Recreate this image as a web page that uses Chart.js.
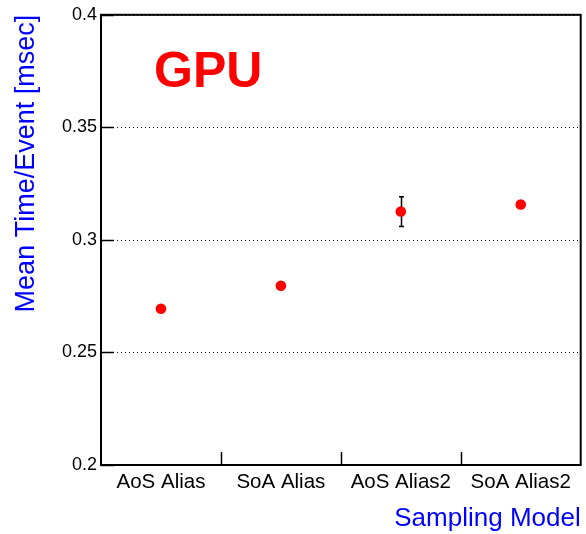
<!DOCTYPE html>
<html>
<head>
<meta charset="utf-8">
<script src="https://cdn.jsdelivr.net/npm/chart.js@4/dist/chart.umd.min.js"></script>
<style>
  html, body { margin: 0; padding: 0; background: #fff; }
  #wrap { width: 586px; height: 534px; }
</style>
</head>
<body>
<div id="wrap"><canvas id="c"></canvas></div>
<script>
// Mean processing time per event for each sampling model (GPU)
const categories = ['AoS Alias', 'SoA Alias', 'AoS Alias2', 'SoA Alias2'];
const meanTime = [0.2694, 0.2796, 0.3126, 0.3157];
const meanTimeErr = [0, 0, 0.0066, 0];
const yTickValues = [0.2, 0.25, 0.3, 0.35, 0.4];
const yTickLabels = ['0.2', '0.25', '0.3', '0.35', '0.4'];

const FONT = 'Liberation Sans, Arial, Helvetica, sans-serif';

// Dotted horizontal grid, inward tick marks, and the frame around the plot
const framePlugin = {
  id: 'frame',
  beforeDatasetsDraw(chart) {
    const { ctx, chartArea: a, scales: { x, y } } = chart;
    ctx.save();
    ctx.strokeStyle = '#000';
    ctx.lineWidth = 1;
    // dotted grid lines
    ctx.setLineDash([1, 3]);
    yTickValues.forEach(v => {
      if (v === y.min) return;
      const py = Math.round(y.getPixelForValue(v)) + 0.5;
      ctx.beginPath();
      ctx.moveTo(a.left, py);
      ctx.lineTo(a.right, py);
      ctx.stroke();
    });
    ctx.setLineDash([]);
    ctx.lineWidth = 1.5;
    // major y ticks pointing inward
    yTickValues.forEach(v => {
      const py = Math.round(y.getPixelForValue(v)) + 0.5;
      ctx.beginPath();
      ctx.moveTo(a.left, py);
      ctx.lineTo(a.left + 13, py);
      ctx.stroke();
    });
    // x ticks at the category boundaries
    for (let i = 0; i < categories.length - 1; i++) {
      const px = Math.round((x.getPixelForValue(i) + x.getPixelForValue(i + 1)) / 2) + 0.5;
      ctx.beginPath();
      ctx.moveTo(px, a.bottom);
      ctx.lineTo(px, a.bottom - 13);
      ctx.stroke();
    }
    ctx.restore();
  },
  afterDraw(chart) {
    const { ctx, chartArea: a } = chart;
    ctx.save();
    ctx.strokeStyle = '#000';
    ctx.lineWidth = 2;
    ctx.strokeRect(a.left, a.top, a.right - a.left, a.bottom - a.top);
    // panel label
    ctx.fillStyle = '#ff0000';
    ctx.font = 'bold 50px ' + FONT;
    ctx.textAlign = 'left';
    ctx.textBaseline = 'alphabetic';
    ctx.fillText('GPU', a.left + 53, 87);
    ctx.restore();
  }
};

// Vertical error bars drawn from the error array through the y scale
const errorBarPlugin = {
  id: 'errorBars',
  beforeDatasetsDraw(chart) {
    const { ctx, scales: { x, y } } = chart;
    ctx.save();
    ctx.strokeStyle = '#000';
    ctx.lineWidth = 1.5;
    meanTime.forEach((v, i) => {
      const e = meanTimeErr[i];
      if (!e) return;
      const px = Math.round(x.getPixelForValue(i)) + 0.5;
      const yHi = y.getPixelForValue(v + e);
      const yLo = y.getPixelForValue(v - e);
      ctx.beginPath();
      ctx.moveTo(px, yHi);
      ctx.lineTo(px, yLo);
      ctx.moveTo(px - 2.5, yHi);
      ctx.lineTo(px + 2.5, yHi);
      ctx.moveTo(px - 2.5, yLo);
      ctx.lineTo(px + 2.5, yLo);
      ctx.stroke();
    });
    ctx.restore();
  }
};

new Chart(document.getElementById('c'), {
  type: 'line',
  data: {
    labels: categories,
    datasets: [{
      data: meanTime,
      showLine: false,
      pointRadius: 5.3,
      pointHoverRadius: 5.3,
      pointBackgroundColor: '#ff0000',
      pointBorderWidth: 0,
      borderColor: '#ff0000'
    }]
  },
  options: {
    responsive: true,
    maintainAspectRatio: false,
    animation: false,
    events: [],
    layout: { padding: { top: 14, right: 2, left: 0, bottom: 0 } },
    plugins: { legend: { display: false }, tooltip: { enabled: false } },
    scales: {
      x: {
        type: 'category',
        offset: true,
        grid: { display: false, drawTicks: false },
        border: { display: false },
        ticks: {
          color: '#000',
          font: { family: FONT, size: 20.5 },
          padding: 5,
          maxRotation: 0,
          autoSkip: false
        },
        title: {
          display: true,
          text: 'Sampling Model',
          align: 'end',
          color: '#0000ff',
          font: { family: FONT, size: 26 },
          padding: 0
        },
        afterFit(scale) { scale.height = 69; }
      },
      y: {
        type: 'linear',
        min: 0.2,
        max: 0.4,
        grid: { display: false, drawTicks: false },
        border: { display: false },
        afterBuildTicks(scale) {
          scale.ticks = yTickValues.map(v => ({ value: v }));
        },
        ticks: {
          color: '#000',
          font: { family: FONT, size: 18 },
          padding: 4,
          callback(value) {
            const i = yTickValues.findIndex(t => Math.abs(t - value) < 1e-9);
            return i >= 0 ? yTickLabels[i] : '';
          }
        },
        title: {
          display: true,
          text: 'Mean Time/Event [msec]',
          align: 'end',
          color: '#0000ff',
          font: { family: FONT, size: 27 },
          padding: 10
        },
        afterFit(scale) { scale.width = 101; }
      }
    }
  },
  plugins: [framePlugin, errorBarPlugin]
});
</script>
</body>
</html>
